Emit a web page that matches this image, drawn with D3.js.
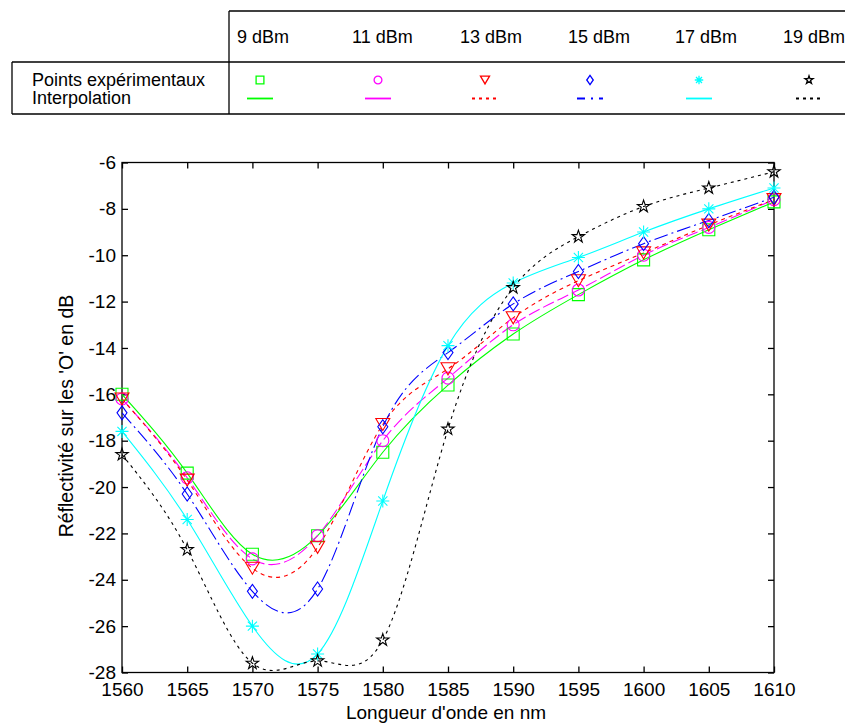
<!DOCTYPE html>
<html>
<head>
<meta charset="utf-8">
<script src="https://cdn.jsdelivr.net/npm/d3@7"></script>
<style>
  html, body { margin: 0; padding: 0; background: #fff; }
  svg { display: block; }
  text { font-family: "Liberation Sans", Arial, sans-serif; fill: #000; }
</style>
</head>
<body>
<svg id="chart" width="845" height="725"></svg>
<script>
// ---------------- DATA ----------------
const wavelengths = [1560, 1565, 1570, 1575, 1580, 1585, 1590, 1595, 1600, 1605, 1610];
const seriesNames = ["9 dBm", "11 dBm", "13 dBm", "15 dBm", "17 dBm", "19 dBm"];
const refl9  = [-16.0, -19.4, -22.9, -22.1, -18.5, -15.6, -13.4, -11.7, -10.2, -8.9, -7.7];
const refl11 = [-16.2, -19.6, -23.1, -22.1, -18.0, -15.3, -13.0, -11.5, -10.0, -8.8, -7.6];
const refl13 = [-16.2, -19.7, -23.5, -22.6, -17.3, -14.9, -12.7, -11.1, -9.9, -8.7, -7.6];
const refl15 = [-16.8, -20.3, -24.5, -24.4, -17.4, -14.2, -12.1, -10.7, -9.5, -8.5, -7.5];
const refl17 = [-17.6, -21.4, -26.0, -27.2, -20.6, -13.9, -11.2, -10.1, -9.0, -8.0, -7.1];
const refl19 = [-18.6, -22.7, -27.6, -27.5, -26.6, -17.5, -11.4, -9.2, -7.9, -7.1, -6.4];
const seriesValues = [refl9, refl11, refl13, refl15, refl17, refl19];
const xTicks = [1560, 1565, 1570, 1575, 1580, 1585, 1590, 1595, 1600, 1605, 1610];
const yTicks = [-28, -26, -24, -22, -20, -18, -16, -14, -12, -10, -8, -6];
const legendRowLabels = ["Points expérimentaux", "Interpolation"];
const xLabel = "Longueur d'onde en nm";
const yLabel = "Réflectivité sur les 'O' en dB";

// ---------------- STYLE ----------------
const colors = ["#00ff00", "#ff00ff", "#ff0000", "#0000ff", "#00ffff", "#000000"];
const plotDash = [null, "12,4", "4,4", "14,4,2,4", null, "3,4"];
const legendDash = [null, null, "3,4", "8,6,2,6", null, "3,4"];
const markerKinds = ["square", "circle", "triDown", "diamond", "asterisk", "star"];

function markerPath(kind, s) {
  const p = d3.path();
  if (kind === "square") {
    const h = 6 * s; p.rect(-h, -h, 2 * h, 2 * h);
  } else if (kind === "circle") {
    const r = 6 * s; p.moveTo(r, 0); p.arc(0, 0, r, 0, 2 * Math.PI);
  } else if (kind === "triDown") {
    const w = 7 * s, h = 6 * s;
    p.moveTo(-w, -h); p.lineTo(w, -h); p.lineTo(0, h); p.closePath();
  } else if (kind === "diamond") {
    const w = 5 * s, h = 7 * s;
    p.moveTo(0, -h); p.lineTo(w, 0); p.lineTo(0, h); p.lineTo(-w, 0); p.closePath();
  } else if (kind === "asterisk") {
    const r = 6.5 * s, d = r * 0.7071;
    p.moveTo(-r, 0); p.lineTo(r, 0);
    p.moveTo(0, -r); p.lineTo(0, r);
    p.moveTo(-d, -d); p.lineTo(d, d);
    p.moveTo(-d, d); p.lineTo(d, -d);
  } else if (kind === "star") {
    const R = 6.5 * s, r = R * 0.382;
    for (let i = 0; i < 10; i++) {
      const a = -Math.PI / 2 + i * Math.PI / 5;
      const rr = i % 2 === 0 ? R : r;
      const x = rr * Math.cos(a), y = rr * Math.sin(a);
      if (i === 0) p.moveTo(x, y); else p.lineTo(x, y);
    }
    p.closePath();
  }
  return p.toString();
}

const svg = d3.select("#chart");

// ---------------- LEGEND TABLE ----------------
const tbl = svg.append("g").attr("stroke", "#000").attr("stroke-width", 1.3).attr("fill", "none");
tbl.append("line").attr("x1", 229).attr("x2", 845).attr("y1", 11).attr("y2", 11);
tbl.append("line").attr("x1", 229).attr("x2", 229).attr("y1", 11).attr("y2", 114);
tbl.append("line").attr("x1", 12).attr("x2", 845).attr("y1", 62).attr("y2", 62);
tbl.append("line").attr("x1", 12).attr("x2", 845).attr("y1", 114).attr("y2", 114);
tbl.append("line").attr("x1", 12).attr("x2", 12).attr("y1", 62).attr("y2", 114);

const colTextX = [237, 352, 460, 568, 675, 783];
const colSymX = [260, 378, 485, 590, 699, 809];
seriesNames.forEach((name, i) => {
  svg.append("text").attr("x", colTextX[i]).attr("y", 43)
    .attr("font-size", 18).text(name);
  svg.append("path").attr("d", markerPath(markerKinds[i], 0.65))
    .attr("transform", `translate(${colSymX[i]},80)`)
    .attr("fill", "none").attr("stroke", colors[i]).attr("stroke-width", 1.3);
  svg.append("line").attr("x1", colSymX[i] - 13).attr("x2", colSymX[i] + 13)
    .attr("y1", 98.5).attr("y2", 98.5)
    .attr("stroke", colors[i]).attr("stroke-width", 1.8)
    .attr("stroke-dasharray", legendDash[i]);
});
svg.append("text").attr("x", 32).attr("y", 86).attr("font-size", 18).text(legendRowLabels[0]);
svg.append("text").attr("x", 32).attr("y", 104).attr("font-size", 18).text(legendRowLabels[1]);

// ---------------- PLOT ----------------
const L = 122, R = 774, T = 162.5, B = 672.5;
const x = d3.scaleLinear().domain([1560, 1610]).range([L, R]);
const y = d3.scaleLinear().domain([-28, -6]).range([B, T]);

svg.append("defs").append("clipPath").attr("id", "clip")
  .append("rect").attr("x", L).attr("y", T).attr("width", R - L).attr("height", B - T);

const axB = svg.append("g").attr("transform", `translate(0,${B})`)
  .call(d3.axisBottom(x).tickValues(xTicks).tickFormat(d3.format("d")).tickSize(-6).tickPadding(10));
const axL = svg.append("g").attr("transform", `translate(${L},0)`)
  .call(d3.axisLeft(y).tickValues(yTicks).tickFormat(d => String(d)).tickSize(-6).tickPadding(6));
const axT = svg.append("g").attr("transform", `translate(0,${T})`)
  .call(d3.axisTop(x).tickValues(xTicks).tickFormat("").tickSize(-6));
const axR = svg.append("g").attr("transform", `translate(${R},0)`)
  .call(d3.axisRight(y).tickValues(yTicks).tickFormat("").tickSize(-6));
[axB, axL, axT, axR].forEach(g => {
  g.select(".domain").remove();
  g.selectAll(".tick line").attr("stroke", "#000").attr("stroke-width", 1.3);
  g.selectAll(".tick text").attr("font-size", 19).attr("fill", "#000")
    .attr("font-family", '"Liberation Sans", Arial, sans-serif');
});
svg.append("rect").attr("x", L).attr("y", T).attr("width", R - L).attr("height", B - T)
  .attr("fill", "none").attr("stroke", "#000").attr("stroke-width", 1.3);

const lineGen = d3.line().x(d => x(d[0])).y(d => y(d[1])).curve(d3.curveNatural);
const plotG = svg.append("g").attr("clip-path", "url(#clip)");
seriesValues.forEach((vals, i) => {
  const pts = wavelengths.map((w, j) => [w, vals[j]]);
  plotG.append("path").attr("d", lineGen(pts))
    .attr("fill", "none").attr("stroke", colors[i]).attr("stroke-width", 1.1)
    .attr("stroke-dasharray", plotDash[i]);
  svg.append("g").selectAll("path").data(pts).join("path")
    .attr("d", markerPath(markerKinds[i], 1))
    .attr("transform", d => `translate(${x(d[0])},${y(d[1])})`)
    .attr("fill", "none").attr("stroke", colors[i]).attr("stroke-width", 1.1);
});

svg.append("text").attr("x", 446).attr("y", 719).attr("text-anchor", "middle")
  .attr("font-size", 19).text(xLabel);
svg.append("text").attr("transform", "translate(73,416) rotate(-90)")
  .attr("text-anchor", "middle").attr("font-size", 19.5).text(yLabel);
</script>
</body>
</html>
